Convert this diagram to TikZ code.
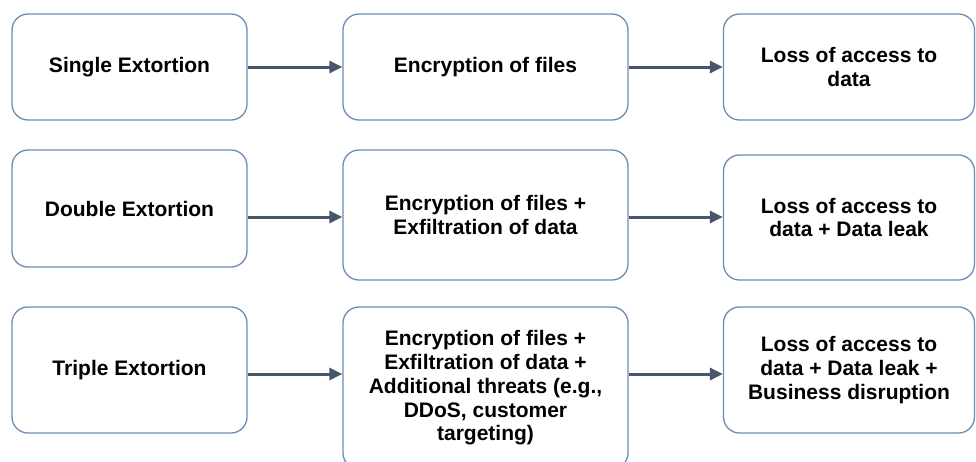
\documentclass[tikz,border=0pt]{standalone}
\usepackage{fontspec}
\setmainfont{Liberation Sans}
\usetikzlibrary{arrows.meta}
\definecolor{boxline}{RGB}{108,140,180}
\definecolor{arrline}{RGB}{72,86,108}
\tikzset{
  stagebox/.style={draw=boxline, line width=1.3pt, rounded corners=16pt, fill=white,
    align=center, inner sep=0pt, font=\fontsize{21}{23.7}\selectfont\bfseries},
  flowarr/.style={draw=arrline, line width=3pt, -{Triangle[length=13pt,width=12pt]}}
}
\begin{document}
\begin{tikzpicture}[x=1pt,y=-1pt]
\useasboundingbox (0,0) rectangle (976,461);
\clip (0,0) rectangle (976,461);
\fill[white] (0,0) rectangle (976,461);
% row 1
\node[stagebox, minimum width=235pt, minimum height=106pt] (A1) at (129.5,67) {\raisebox{-2pt}{Single Extortion}};
\node[stagebox, minimum width=285pt, minimum height=106pt] (B1) at (485.5,67) {\raisebox{-2pt}{Encryption of files}};
\node[stagebox, minimum width=251pt, minimum height=106pt] (C1) at (849,67) {Loss of access to\\data};
% row 2
\node[stagebox, minimum width=235pt, minimum height=117pt] (A2) at (129.5,208.5) {Double Extortion};
\node[stagebox, minimum width=285pt, minimum height=130pt] (B2) at (485.5,215) {Encryption of files +\\Exfiltration of data};
\node[stagebox, minimum width=251pt, minimum height=125pt] (C2) at (849,217.5) {Loss of access to\\data + Data leak};
% row 3
\node[stagebox, minimum width=235pt, minimum height=126pt] (A3) at (129.5,370) {\raisebox{-1pt}{Triple Extortion}};
\node[stagebox, minimum width=285pt, minimum height=162pt] (B3) at (485.5,388) {Encryption of files +\\Exfiltration of data +\\Additional threats (e.g.,\\DDoS, customer\\targeting)};
\node[stagebox, minimum width=251pt, minimum height=126pt] (C3) at (849,370) {Loss of access to\\data + Data leak +\\Business disruption};
% arrow levels
\coordinate (r1) at (0,67);
\coordinate (r2) at (0,217);
\coordinate (r3) at (0,374);
\draw[flowarr] (A1.east |- r1) -- (B1.west |- r1);
\draw[flowarr] (B1.east |- r1) -- (C1.west |- r1);
\draw[flowarr] (A2.east |- r2) -- (B2.west |- r2);
\draw[flowarr] (B2.east |- r2) -- (C2.west |- r2);
\draw[flowarr] (A3.east |- r3) -- (B3.west |- r3);
\draw[flowarr] (B3.east |- r3) -- (C3.west |- r3);
\end{tikzpicture}
\end{document}
